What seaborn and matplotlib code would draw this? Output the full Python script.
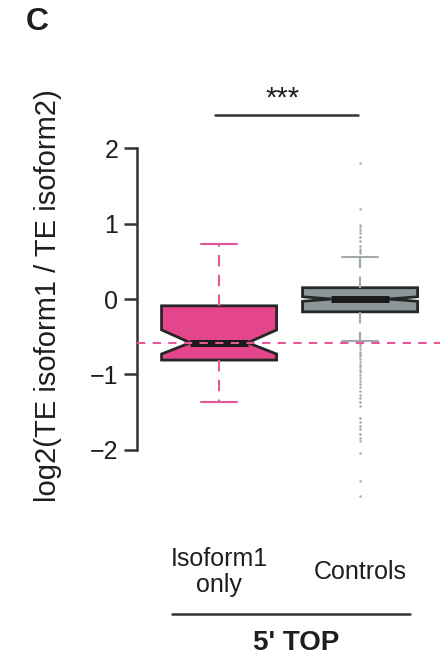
import numpy as np
import pandas as pd
import matplotlib
matplotlib.use("Agg")
import matplotlib.pyplot as plt
import seaborn as sns

# ---- data -------------------------------------------------------------
groups = ["Isoform1\nonly", "Controls"]
q1 = [-0.81, -0.17]
q3 = [-0.09, 0.15]
medians = [-0.58, 0.00]
notch_lo = [-0.73, -0.03]
notch_hi = [-0.41, 0.03]
whisker_lo = [-1.37, -0.56]
whisker_hi = [0.73, 0.56]
control_outliers = [
    0.61, 0.64, 0.67, 0.70, 0.77, 0.82, 0.87, 0.92, 0.95, 0.98, 1.20, 1.80,
    -0.60, -0.63, -0.66, -0.70, -0.73, -0.76, -0.80, -0.83, -0.87, -0.90,
    -0.94, -0.97, -1.01, -1.05, -1.09, -1.13, -1.17, -1.22, -1.27, -1.32,
    -1.37, -1.42, -1.58, -1.63, -1.68, -1.73, -1.79, -1.85, -1.89, -2.05,
    -2.41, -2.62,
]
reference_level = -0.58
group_title = "5' TOP"
panel_letter = "C"
significance = "***"

# ---- style ------------------------------------------------------------
sns.set_style("white")
plt.rcParams["font.family"] = ["Liberation Sans", "DejaVu Sans"]
text_col = "#1E1E1E"
pink = "#E4468C"
pink_line = "#E6569A"
grey_fill = "#8D969B"
grey_line = "#A2A9AD"
edge_col = "#262626"

fig = plt.figure(figsize=(4.4, 6.64), dpi=100)
ax = fig.add_axes([0.3114, 0.2093, 0.6886, 0.6807])

# outlying control values as small dots
out_df = pd.DataFrame({"group": "Controls", "value": control_outliers})
sns.stripplot(data=out_df, x="group", y="value", order=groups, jitter=False,
              size=1.8, color=grey_line, linewidth=0, ax=ax, zorder=1)

# notched boxes from summary statistics
stats = []
for i in range(len(groups)):
    stats.append(dict(med=medians[i], q1=q1[i], q3=q3[i],
                      cilo=notch_lo[i], cihi=notch_hi[i],
                      whislo=whisker_lo[i], whishi=whisker_hi[i],
                      fliers=[], label=groups[i]))

art = ax.bxp(stats, positions=[0, 1], widths=0.816, capwidths=0.26,
             shownotches=True, patch_artist=True, showfliers=False,
             manage_ticks=False,
             boxprops=dict(edgecolor=edge_col, linewidth=2.0),
             medianprops=dict(color="#1A1A1A", linewidth=5.0,
                              solid_capstyle="butt"),
             whiskerprops=dict(linestyle=(0, (5.5, 4)), linewidth=1.5),
             capprops=dict(linewidth=1.5))

fills = [pink, grey_fill]
lines = [pink_line, grey_line]
for i, box in enumerate(art["boxes"]):
    box.set_facecolor(fills[i])
    box.set_zorder(2)
for i in range(len(groups)):
    for w in art["whiskers"][2 * i:2 * i + 2]:
        w.set_color(lines[i])
    for c in art["caps"][2 * i:2 * i + 2]:
        c.set_color(lines[i])
for m in art["medians"]:
    m.set_zorder(3)

# horizontal reference at the isoform1 median
ax.axhline(reference_level, color=pink_line, linewidth=1.5,
           linestyle=(0, (4, 3.5)), zorder=4)

# axes
ax.set_ylim(-3, 3)
ax.set_xlim(-0.582, 1.567)
ax.set_yticks([-2, -1, 0, 1, 2])
ax.set_xticks([])
ax.set_xlabel("")
for s in ["top", "right", "bottom"]:
    ax.spines[s].set_visible(False)
ax.spines["left"].set_bounds(-2, 2)
ax.spines["left"].set_color("#333333")
ax.spines["left"].set_linewidth(1.8)
ax.tick_params(axis="y", length=9.4, width=1.8, color="#333333",
               labelsize=18, labelcolor=text_col, pad=4, left=True)
ax.set_ylabel("log2(TE isoform1 / TE isoform2)", fontsize=21,
              color=text_col, va="center")
ax.yaxis.set_label_coords(-0.294, 0.507)

# significance bracket
ax.plot([-0.03, 0.986], [2.44, 2.44], color="#333333", linewidth=1.8,
        clip_on=False)
ax.text(0.447, 2.66, significance, ha="center", va="center", fontsize=21,
        color=text_col)

# category labels and group title below the axis
xt = ax.get_xaxis_transform()
for i, g in enumerate(groups):
    ax.text(i, -0.104, g, transform=xt, ha="center", va="center",
            fontsize=18, color=text_col, linespacing=1.15, clip_on=False)
ax.plot([-0.333, 1.355], [-0.197, -0.197], transform=xt, color="#333333",
        linewidth=1.8, clip_on=False)
ax.text(0.546, -0.262, group_title, transform=xt, ha="center", va="center",
        fontsize=20, fontweight="bold", color=text_col, clip_on=False)

fig.text(37 / 440, 1 - 22 / 664, panel_letter, ha="center", va="center",
         fontsize=23, fontweight="bold", color=text_col)

fig.savefig("out.png", dpi=100)
